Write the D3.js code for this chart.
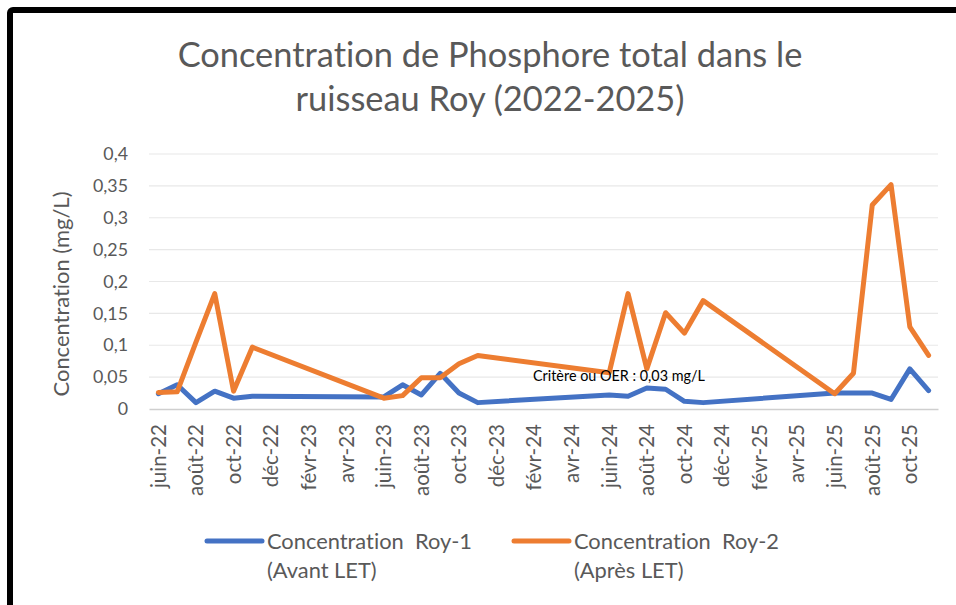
<!DOCTYPE html>
<html>
<head>
<meta charset="utf-8">
<script src="https://cdn.jsdelivr.net/npm/d3@7"></script>
<style>
  body { margin: 0; background: #fff; }
  svg { display: block; font-family: Lato, "Open Sans", sans-serif; font-variant-ligatures: none; }
</style>
</head>
<body>
<div id="chart"></div>
<script>
// mois d'échantillonnage
const sampleMonths = [
  "2022-06", "2022-07", "2022-08", "2022-09", "2022-10", "2022-11",
  "2023-06", "2023-07", "2023-08", "2023-09", "2023-10", "2023-11",
  "2024-06", "2024-07", "2024-08", "2024-09", "2024-10", "2024-11",
  "2025-06", "2025-07", "2025-08", "2025-09", "2025-10", "2025-11"
];
// Roy-1 (Avant LET)
const roy1 = [
  0.024, 0.038, 0.010, 0.028, 0.017, 0.020,
  0.019, 0.038, 0.022, 0.056, 0.025, 0.010,
  0.022, 0.020, 0.033, 0.031, 0.012, 0.010,
  0.025, 0.025, 0.025, 0.015, 0.063, 0.029
];
// Roy-2 (Après LET)
const roy2 = [
  0.026, 0.027, 0.105, 0.181, 0.028, 0.097,
  0.017, 0.021, 0.049, 0.049, 0.071, 0.084,
  0.057, 0.181, 0.063, 0.151, 0.119, 0.170,
  0.024, 0.056, 0.320, 0.352, 0.129, 0.084
];
const yTicks = [0, 0.05, 0.1, 0.15, 0.2, 0.25, 0.3, 0.35, 0.4];
const seriesNames = [["Concentration  Roy-1", "(Avant LET)"], ["Concentration  Roy-2", "(Après LET)"]];
const seriesColors = ["#4472C4", "#ED7D31"];

const width = 956, height = 605;
const plot = { left: 149, right: 938, top: 154, bottom: 409 };
const textColor = "#595959";

// ajuste la taille de police pour obtenir la largeur voulue (Calibri absent)
function fitFont(sel, measureNode, target) {
  const size = parseFloat(sel.style("font-size"));
  const w = measureNode.getComputedTextLength();
  sel.style("font-size", (size * target / w).toFixed(2) + "px");
}

const parseMonth = d3.timeParse("%Y-%m");
const frMonths = ["janv", "févr", "mars", "avr", "mai", "juin", "juil", "août", "sept", "oct", "nov", "déc"];
const fmtMonth = d => frMonths[d.getMonth()] + "-" + String(d.getFullYear()).slice(2);

// axe de dates, une case par mois (juin-22 à nov-25)
const allMonths = d3.timeMonth.range(parseMonth("2022-06"), parseMonth("2025-12"));
const x = d3.scaleBand()
  .domain(allMonths.map(d => +d))
  .range([plot.left, plot.right])
  .padding(0);
const xPos = d => x(+d) + x.bandwidth() / 2;

const y = d3.scaleLinear().domain([0, 0.4]).range([plot.bottom, plot.top]);

const svg = d3.select("#chart").append("svg")
  .attr("width", width)
  .attr("height", height);

svg.append("rect")
  .attr("x", 0).attr("y", 0).attr("width", width).attr("height", height)
  .attr("fill", "#fff");

// cadre noir
svg.append("rect")
  .attr("x", 10).attr("y", 10)
  .attr("width", 970).attr("height", 640)
  .attr("rx", 3)
  .attr("fill", "none")
  .attr("stroke", "#000")
  .attr("stroke-width", 6);

// titre
const title = svg.append("text")
  .attr("text-anchor", "middle")
  .attr("fill", textColor)
  .style("font-size", "31px");
title.selectAll("tspan")
  .data(["Concentration de Phosphore total dans le", "ruisseau Roy (2022-2025)"])
  .join("tspan")
  .attr("x", 490)
  .attr("y", (d, i) => 67 + i * 44)
  .text(d => d);
fitFont(title, title.select("tspan").node(), 625);

// grille horizontale
svg.append("g")
  .selectAll("line")
  .data(yTicks.filter(d => d > 0))
  .join("line")
  .attr("x1", plot.left).attr("x2", plot.right)
  .attr("y1", d => y(d)).attr("y2", d => y(d))
  .attr("stroke", "#e8e8e8")
  .attr("stroke-width", 1.2);

// axe Y
const yAxis = svg.append("g")
  .attr("transform", `translate(${plot.left - 21},0)`)
  .attr("font-family", null)
  .attr("font-size", null)
  .call(d3.axisLeft(y).tickValues(yTicks).tickSize(0).tickFormat(d => String(d).replace(".", ",")));
yAxis.attr("font-family", null).attr("font-size", null).style("font-size", "18px");
yAxis.select(".domain").remove();
yAxis.selectAll("text")
  .attr("fill", textColor)
  .attr("x", 0);
fitFont(yAxis, yAxis.selectAll("text").filter(d => d === 0.35).node(), 35);

// axe X
const xAxis = svg.append("g")
  .attr("transform", `translate(0,${plot.bottom})`)
  .call(d3.axisBottom(x)
    .tickValues(allMonths.filter((d, i) => i % 2 === 0).map(d => +d))
    .tickSize(0)
    .tickFormat(d => fmtMonth(new Date(d))));
xAxis.attr("font-family", null).attr("font-size", null).style("font-size", "20px");
xAxis.select(".domain")
  .attr("stroke", "#cfcfcf")
  .attr("stroke-width", 1.5);
xAxis.selectAll("text")
  .attr("fill", textColor)
  .attr("text-anchor", "end")
  .attr("transform", "rotate(-90)")
  .attr("x", -15)
  .attr("y", 0)
  .attr("dy", "0.36em");
fitFont(xAxis, xAxis.selectAll("text").filter((d, i) => i === 1).node(), 72);

// titre de l'axe Y
const yTitle = svg.append("text")
  .attr("transform", "translate(69,294) rotate(-90)")
  .attr("text-anchor", "middle")
  .attr("fill", textColor)
  .style("font-size", "20px")
  .text("Concentration (mg/L)");
fitFont(yTitle, yTitle.node(), 205);

// séries
const series = [roy1, roy2].map(vals => sampleMonths.map((m, i) => ({ date: parseMonth(m), value: vals[i] })));
const line = d3.line()
  .x(d => xPos(d.date))
  .y(d => y(d.value));

svg.append("g")
  .selectAll("path")
  .data(series)
  .join("path")
  .attr("d", line)
  .attr("fill", "none")
  .attr("stroke", (d, i) => seriesColors[i])
  .attr("stroke-width", 5)
  .attr("stroke-linejoin", "round")
  .attr("stroke-linecap", "round");

// annotation du critère
const note = svg.append("text")
  .attr("x", 533).attr("y", 381)
  .attr("fill", "#000")
  .style("font-size", "13.5px")
  .text("Critère ou OER : 0,03 mg/L");
fitFont(note, note.node(), 172);

// légende
const legendX = [207, 514];
const legend = svg.append("g")
  .style("font-size", "20px");
const items = legend.selectAll("g")
  .data(seriesNames)
  .join("g")
  .attr("transform", (d, i) => `translate(${legendX[i]},0)`);
items.append("line")
  .attr("x1", 0).attr("x2", 55)
  .attr("y1", 541).attr("y2", 541)
  .attr("stroke", (d, i) => seriesColors[i])
  .attr("stroke-width", 5)
  .attr("stroke-linecap", "round");
items.append("text")
  .attr("fill", textColor)
  .selectAll("tspan")
  .data(d => d)
  .join("tspan")
  .attr("x", 60)
  .attr("y", (d, i) => 549 + i * 29)
  .style("white-space", "pre")
  .text(d => d);
fitFont(legend, legend.select("tspan").node(), 205);
</script>
</body>
</html>
